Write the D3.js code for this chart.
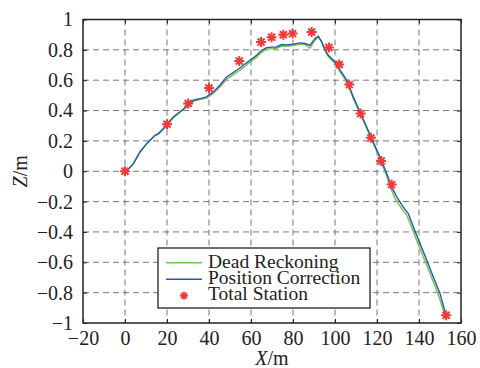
<!DOCTYPE html>
<html>
<head>
<meta charset="utf-8">
<script src="https://cdn.jsdelivr.net/npm/d3@7"></script>
<style>
  body { margin: 0; background: #fff; }
</style>
</head>
<body>
<div id="chart-container"></div>
<script>
// Position correction (blue)
const posX = [0, 2, 4, 7.1, 10.3, 14.3, 15.9, 18.3, 20, 23, 26, 29.4, 32.5, 35.7, 38.9, 42, 45.2, 48.4, 51, 54.4,
  57, 59.5, 62.7, 65.1, 67.5, 70, 72.2, 74.6, 77, 80.2, 83.3, 85.7, 88.1, 90.5, 92.1, 93.7, 95, 96.8, 100, 102.4,
  105.6, 108.7, 111.9, 115.1, 118.2, 121.4, 124.6, 127, 129.4, 132.5, 134.9, 137.3, 140.5, 143.7, 146.8, 150, 152.4];
const posZ = [0, 0.02, 0.05, 0.127, 0.182, 0.237, 0.248, 0.281, 0.31, 0.358, 0.39, 0.428, 0.468, 0.479, 0.49, 0.523, 0.567, 0.621, 0.645, 0.677,
  0.705, 0.731, 0.764, 0.797, 0.815, 0.818, 0.819, 0.835, 0.832, 0.837, 0.846, 0.842, 0.83, 0.874, 0.89, 0.852, 0.81, 0.764, 0.72, 0.666,
  0.6, 0.49, 0.391, 0.292, 0.193, 0.094, -0.015, -0.103, -0.169, -0.236, -0.279, -0.367, -0.477, -0.587, -0.697, -0.806, -0.927];

// Dead reckoning (green)
const deadX = [0, 2, 4, 7.1, 10.3, 14.3, 15.9, 18.3, 20, 23, 26, 29.4, 32.5, 35.7, 38.9, 42, 45.2, 48.4, 51, 54.4,
  57, 59.5, 62.7, 65.1, 67.5, 70, 72.2, 74.6, 77, 80.2, 83.3, 85.7, 88.1, 90.5, 92.1, 93.7, 95, 96.8, 100, 102.4,
  105.6, 108.7, 111.9, 115.1, 118.2, 121.4, 124.4, 126.5, 128.6, 131.6, 134.2, 136.7, 139.8, 143, 146.2, 149.3, 152];
const deadZ = [0, 0.02, 0.05, 0.125, 0.18, 0.235, 0.245, 0.278, 0.305, 0.352, 0.385, 0.425, 0.46, 0.472, 0.482, 0.512, 0.555, 0.606, 0.63, 0.662,
  0.69, 0.718, 0.752, 0.785, 0.805, 0.808, 0.81, 0.825, 0.823, 0.828, 0.836, 0.835, 0.81, 0.865, 0.885, 0.85, 0.8, 0.755, 0.71, 0.655,
  0.59, 0.48, 0.38, 0.282, 0.183, 0.085, -0.025, -0.11, -0.18, -0.245, -0.29, -0.377, -0.487, -0.597, -0.707, -0.817, -0.935];

// Total station (red stars)
const stationX = [0, 20, 30.1, 40, 54.4, 64.8, 69.8, 75.4, 79.8, 88.9, 97.1, 102, 106.8, 112.2, 117.1, 122, 127, 152.9];
const stationZ = [0, 0.31, 0.446, 0.549, 0.727, 0.852, 0.883, 0.9, 0.907, 0.918, 0.815, 0.703, 0.571, 0.38, 0.22, 0.068, -0.088, -0.949];

const xTicks = [-20, 0, 20, 40, 60, 80, 100, 120, 140, 160];
const yTicks = [-1, -0.8, -0.6, -0.4, -0.2, 0, 0.2, 0.4, 0.6, 0.8, 1];
const legendLabels = ["Dead Reckoning", "Position Correction", "Total Station"];

const width = 480;
const height = 368;
const margin = { top: 19.5, right: 19, bottom: 45, left: 83 };
const serif = "'Liberation Serif', 'Times New Roman', serif";

const svg = d3.select("#chart-container")
  .append("svg")
  .attr("width", width)
  .attr("height", height)
  .attr("font-family", serif);

const xScale = d3.scaleLinear().domain([-20, 160]).range([margin.left, width - margin.right]);
const yScale = d3.scaleLinear().domain([-1, 1]).range([height - margin.bottom, margin.top]);

const fmt = (v) => (v < 0 ? "\u2212" : "") + d3.format("~g")(Math.abs(v));

// grid
const grid = svg.append("g").attr("stroke", "#777").attr("stroke-width", 1).attr("stroke-dasharray", "6,4");
grid.selectAll(".gx")
  .data(xTicks.slice(1, -1))
  .enter()
  .append("line")
  .attr("x1", (d) => xScale(d)).attr("x2", (d) => xScale(d))
  .attr("y1", yScale(1)).attr("y2", yScale(-1));
grid.selectAll(".gy")
  .data(yTicks.slice(1, -1))
  .enter()
  .append("line")
  .attr("y1", (d) => yScale(d)).attr("y2", (d) => yScale(d))
  .attr("x1", xScale(-20)).attr("x2", xScale(160));

// axes
svg.append("g")
  .attr("transform", `translate(0, ${yScale(-1)})`)
  .call(d3.axisBottom(xScale).tickValues(xTicks).tickFormat(fmt).tickSize(-4).tickPadding(8));
svg.append("g")
  .attr("transform", `translate(${xScale(-20)}, 0)`)
  .call(d3.axisLeft(yScale).tickValues(yTicks).tickFormat(fmt).tickSize(-4).tickPadding(10));
svg.append("g")
  .attr("transform", `translate(${xScale(160)}, 0)`)
  .call(d3.axisRight(yScale).tickValues(yTicks).tickFormat("").tickSize(-4));
svg.append("g")
  .attr("transform", `translate(0, ${yScale(1)})`)
  .call(d3.axisTop(xScale).tickValues(xTicks).tickFormat("").tickSize(-4));

svg.selectAll(".domain").remove();
svg.selectAll(".tick line").attr("stroke", "#222");
svg.selectAll("g").attr("font-family", serif);
svg.selectAll(".tick text")
  .attr("font-family", serif)
  .style("font-family", serif)
  .attr("font-size", 20)
  .attr("fill", "#222");

// lines
const line = d3.line().x((d) => xScale(d[0])).y((d) => yScale(d[1]));
svg.append("path")
  .datum(deadX.map((x, i) => [x, deadZ[i]]))
  .attr("d", line)
  .attr("fill", "none")
  .attr("stroke", "#77c24a")
  .attr("stroke-width", 1.4);
svg.append("path")
  .datum(posX.map((x, i) => [x, posZ[i]]))
  .attr("d", line)
  .attr("fill", "none")
  .attr("stroke", "#2458a8")
  .attr("stroke-width", 1.4);

// star marker
function star(s) {
  const d = s * 0.7;
  return `M${-s},0L${s},0M0,${-s}L0,${s}M${-d},${-d}L${d},${d}M${-d},${d}L${d},${-d}`;
}
svg.selectAll(".station")
  .data(stationX.map((x, i) => [x, stationZ[i]]))
  .enter()
  .append("path")
  .attr("transform", (d) => `translate(${xScale(d[0])}, ${yScale(d[1])})`)
  .attr("d", star(5))
  .attr("stroke", "#f03a3a")
  .attr("stroke-width", 2);

// box
svg.append("rect")
  .attr("x", xScale(-20)).attr("y", yScale(1))
  .attr("width", xScale(160) - xScale(-20))
  .attr("height", yScale(-1) - yScale(1))
  .attr("fill", "none")
  .attr("stroke", "#222")
  .attr("stroke-width", 1.5);

// axis titles
const xt = svg.append("text")
  .attr("x", (xScale(-20) + xScale(160)) / 2)
  .attr("y", 365)
  .attr("text-anchor", "middle")
  .attr("font-size", 20)
  .attr("fill", "#222");
xt.append("tspan").attr("font-style", "italic").text("X");
xt.append("tspan").text("/m");

const yt = svg.append("text")
  .attr("transform", `translate(27, ${(yScale(1) + yScale(-1)) / 2}) rotate(-90)`)
  .attr("text-anchor", "middle")
  .attr("font-size", 20)
  .attr("fill", "#222");
yt.append("tspan").attr("font-style", "italic").text("Z");
yt.append("tspan").text("/m");

// legend
const legend = svg.append("g").attr("transform", "translate(158, 248)");
legend.append("rect")
  .attr("width", 212).attr("height", 60)
  .attr("fill", "#fff")
  .attr("stroke", "#222")
  .attr("stroke-width", 1.3);
const legendColors = ["#77c24a", "#2458a8"];
legendColors.forEach((c, i) => {
  legend.append("line")
    .attr("x1", 8).attr("x2", 44)
    .attr("y1", 14.7 + i * 16.5).attr("y2", 14.7 + i * 16.5)
    .attr("stroke", c).attr("stroke-width", 1.4);
});
legend.append("path")
  .attr("transform", "translate(26, 47.7)")
  .attr("d", star(4))
  .attr("stroke", "#f03a3a")
  .attr("stroke-width", 1.8);
legend.selectAll(".ltext")
  .data(legendLabels)
  .enter()
  .append("text")
  .attr("x", 50)
  .attr("y", (d, i) => 20 + i * 16)
  .attr("font-size", 19.5)
  .attr("fill", "#222")
  .text((d) => d);
</script>
</body>
</html>
